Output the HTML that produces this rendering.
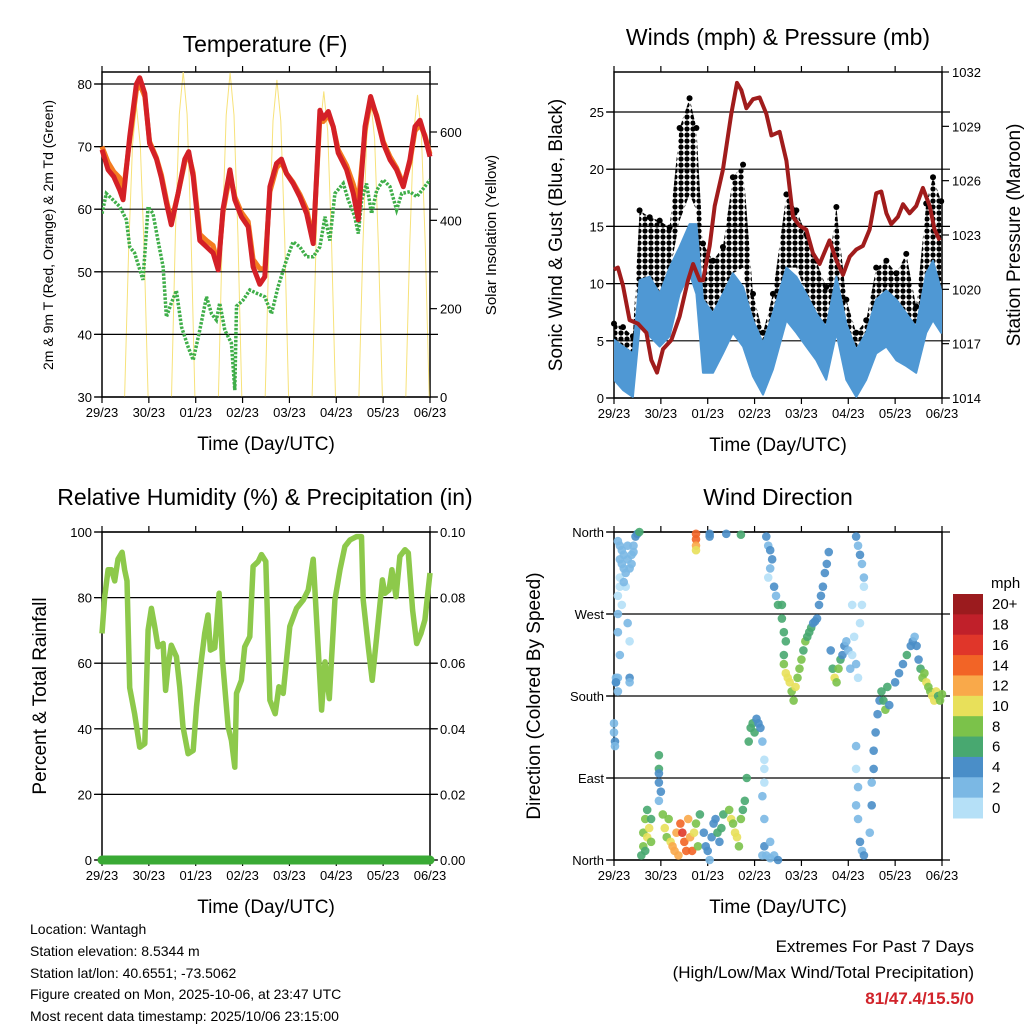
<!DOCTYPE html>
<html><head><meta charset="utf-8"><style>
body{margin:0;background:#fff;}
svg{display:block;font-family:"Liberation Sans",sans-serif;}
</style></head><body>
<svg id="c" width="1024" height="1024" viewBox="0 0 1024 1024" xmlns="http://www.w3.org/2000/svg">
<defs>
<pattern id="dots" width="6" height="6" patternUnits="userSpaceOnUse"><circle cx="3" cy="3" r="2.6" fill="#000"/></pattern>
</defs>
</svg>
<script>
// ---------- DATA ----------
const dayLabels = ["29/23","30/23","01/23","02/23","03/23","04/23","05/23","06/23"];
// Temperature panel
const tempHours = [0,3.1,6,9.1,10.8,14.2,17.6,19.3,21.9,24.4,27.9,30.4,33,35.5,39,42.4,44.4,46.7,50.1,53.5,56.9,59.5,62,65.5,68,71.4,74.9,77.4,80.8,83.4,86,89.4,91.9,94.5,97.9,101.3,104.8,108.2,111.6,113.3,115.9,118.4,121,125.3,128.7,131.3,134.7,137.6,140.7,144.1,147.5,150.9,154.3,157.7,160.3,162.9,165.4,168];
const temp2m = [69.5,66.3,65.2,63,61.5,71.6,80,81,78.5,70.5,68,65,61,57.5,62.5,68,69.2,65.2,55,54,53,50.3,60,66.3,61.5,58.8,57.2,50.8,48,49.2,63.6,67.3,68,65.7,64.1,62,59.3,54.5,75.8,74.5,75.6,73.2,69,66.3,62.5,58.3,73.2,78,74.8,70.5,67.9,66.3,63.6,67.9,73.2,74.2,71.6,68.4];
const temp9m = [70,67.5,66,65,62.5,71,79,80,78,70.8,68.2,65.5,61.5,58,62.5,67.5,68.8,65.8,56,55,54.2,51,59.5,65.5,62,59.5,58,52,50.5,50.5,62.8,66.6,67.5,65.7,64.3,62.4,60,55,74.5,74,75,73.2,69.5,67,64,61,72.5,77.4,75,70.8,68.4,66.6,64,67.5,72.5,73.5,71.8,68.8];
const dewHours = [0,2.2,5.6,9.1,12.5,14.2,16.7,21,23.6,26.1,28.7,31.3,33,35.5,38.1,40.7,44.1,46.7,50.1,53.5,56.1,58.6,60.3,62.9,66.3,68,68.9,72.3,75.7,79.1,83.4,86.8,90.2,94.5,97.9,101.3,104.8,108.2,111.6,114.2,116.7,119.3,123.6,126.1,129.5,131.3,133,135.5,138.1,140.7,144.1,147.5,150.9,153.5,157.7,161.2,164.6,168];
const dewpoint = [59.3,62.5,61.5,60.4,58.3,54,53,48.7,60.4,59.3,55,50.8,42.8,45,47,41.2,38,35.9,40.7,46,43.3,42.3,45,40.7,38.6,31.1,44.5,45.5,47.1,46.6,46,43.3,47.6,51.9,54.8,54,52.4,52.4,54,58.8,55,62.5,64.1,61.5,58.8,56.1,61.5,64.1,59.3,63,64.7,63.6,59.9,62.5,62.8,62,63.3,64.7];
const solarHours = [11.6,13.6,15.6,17.6,19.6,21.6,23.6, 35.6,37.6,39.6,41.6,43.6,45.6,47.6, 59.6,61.6,63.6,65.6,67.6,69.6,71.6, 83.6,85.6,87.6,89.6,91.6,93.6,95.6, 107.6,109.6,111.6,113.6,115.6,117.6,119.6, 131.6,133.6,135.6,137.6,139.6,141.6,143.6, 155.6,157.6,159.6,161.6,163.6,165.6,167.6];
const solar = [0,330,570,660,570,330,0, 0,370,640,737,640,370,0, 0,367,638,734,638,367,0, 0,359,625,718,625,359,0, 0,346,602,692,602,346,0, 0,336,585,673,585,336,0, 0,342,595,684,595,342,0];
// Winds panel
const presHours = [0,2,4.6,8,12.3,16.6,19.1,22,25.1,29.4,33.6,37.9,40.5,43.9,45.6,49,51.6,55.8,60.1,63,65.2,67.8,71.2,74.6,78,80.6,84.8,88.3,91.7,95.1,98.5,101.9,105.3,110.4,113.9,117.3,120.7,124.1,127.5,130.9,134.3,136.9,139.5,142,145.4,148,151.4,154.8,158.2,161.7,164.2,166.8];
const pressure = [1021.1,1021.2,1020.2,1018.3,1018.1,1017.6,1016.1,1015.4,1016.7,1017.2,1018.5,1020.5,1021.4,1020.5,1020.5,1022.4,1024.6,1026.6,1029.7,1031.4,1031,1030,1030.5,1030.6,1029.7,1028.5,1028.7,1027.1,1024,1023.5,1023.3,1022,1021.4,1022.7,1021.6,1020.8,1021.8,1022.2,1022.4,1023.3,1025.3,1025.4,1024.2,1023.6,1024,1024.7,1024.2,1024.6,1025.6,1024.6,1023.3,1022.7];
const windHours = [0,4.6,9.7,13.1,18.3,23.4,28.5,33.6,38.7,42.2,45.6,50.7,55.8,60.9,66.1,71.2,76.3,81.4,88.3,93.4,98.5,103.6,108.7,113.9,119,124.1,129.2,134.3,139.5,144.6,149.7,154.8,159.9,163.4,167.6];
const windHigh = [5.1,4.5,3.9,10.3,10.6,9.1,11.4,13.2,15.2,15.2,8.6,7.4,9.1,10.9,9.7,6.8,4.8,7.4,11.4,10.6,9.1,7.4,6.2,10.6,6.5,4.2,5.7,8.6,9.4,8.6,7.4,6.2,10.9,12,9.4];
const windLow = [1.6,0.7,0.1,6.2,5.4,4.5,5.4,9.1,10.9,9.1,2.2,2.2,3.9,5.7,4.5,1.9,0.3,2.5,6.8,5.7,4.5,3.3,1.6,5.7,1.6,0.1,1.6,3.9,4.5,3.3,2.8,2.2,5.7,6.8,5.7];
const gustHigh = [6.5,6.2,5.4,16.4,15.8,15.5,14.9,23.6,26.2,23.6,13.5,12,13.2,19.3,20.4,9.1,5.7,9.1,17.8,16.4,14.3,12,9.7,16.7,8.6,5.7,6.8,11.4,12,10.9,12.6,8,17,19.3,17.2];
const gustLow = [3.9,3.3,1.6,9.7,9.7,9.1,10.9,15.5,17.8,16.4,5.7,4.5,6.8,10.9,11.4,5.1,1.9,4.5,11.4,11.4,9.1,7.4,5.4,10.3,4.5,1.9,3.3,7.4,8.1,6.2,6.2,4.8,9.1,11.4,9.1];
// RH panel
const rhHours = [0,1.4,3.1,4.8,6.5,8.2,10.3,11.6,12.8,14.2,16.7,19.3,21.9,23.6,25.3,27,28.7,31.3,32.6,33.8,35.5,38.1,39.8,41.5,44.1,46.7,48.4,50.9,52.6,54.3,55.5,57.8,60,61.7,64.6,66.3,68,68.9,71.4,73.1,75.7,77.4,80,81.7,83.9,86,88.7,90.6,92.8,96.2,99.6,103.1,105.6,108.2,109.9,112.5,114.2,116.4,119.3,121.9,124.4,127,130.4,132.9,133.8,136.4,138.4,140.7,143.6,144.9,147,148.5,150.6,152.6,155.2,156.9,159.1,161.2,163.4,165.4,168];
const rh = [69.1,80.3,88.5,88.5,85.1,91.7,93.8,88.5,85.1,52.5,44.6,34.4,35.5,70.1,76.7,71.2,65,66,51.7,58.9,65.5,62,52.8,40.6,32.4,33.4,46.7,61,69.1,74.7,64,64.7,81.3,61,40.6,36.5,28.3,50.8,54.8,65,68.1,89.5,91,93.1,91,48.7,44.6,52.8,50.8,71.2,76.7,79.3,82.3,91.7,73.2,45.7,60.4,49.2,79.3,88.5,95.6,97.6,98.6,98.6,79.3,64.9,54.8,68.1,85.4,81.3,82.3,88.5,80.3,92.6,94.6,93.6,76.2,66,69.1,73.2,87.5];
const precipHours = [0,168];
const precip = [0,0];
// Wind direction panel: [hour, degrees, speed mph]
const dirPts = [[2,350,2],[3,330,2],[3,310,1],[4,340,3],[5,320,2],[6,300,1],[7,330,3],[8,320,2],[9,335,3],[10,345,3],[11,355,4],[12,358,5],[13,360,7],[2,290,1],[4,280,1],[2,250,2],[3,225,2],[2,200,3],[7,260,2],[8,240,1],[2,185,3],[1,195,3],[1,200,3],[1,195,4],[8,200,4],[8,195,2],[0,150,2],[0,140,3],[0.5,130,4],[0.5,125,3],
[3,345,2],[4,325,2],[5,335,3],[6,315,2],[7,345,2],[9,325,3],[10,338,2],[3,300,1],[5,305,2],[2,270,2],
[42,358,14],[42,352,15],[42,345,12],[42,340,10],[49,358,4],[49,355,4],[57.5,358,4],[65,357,6],
[14,5,7],[15,15,8],[15,30,9],[16,45,8],[17,55,6],[17,25,10],[18,35,10],[19,45,7],[19,20,9],[16,10,6],
[23,115,7],[23,100,6],[23,85,4],[24,75,4],[23,95,4],[23,65,3],
[25,50,8],[26,35,10],[27,25,8],[28,45,9],[29,20,11],[30,15,12],[31,10,13],[32,30,13],[33,5,12],
[34,40,15],[35,30,16],[36,20,15],[37,10,14],[38,45,13],[39,25,12],[40,10,15],[41,30,10],[42,40,9],[43,15,8],[44,50,7],
[46,30,4],[47,15,5],[48,10,4],[49,0,3],[50,25,4],[51,40,5],[52,45,4],[53,30,6],[54,20,5],[55,35,6],[56,50,7],
[59,55,8],[60,45,10],[61,40,9],[62,30,10],[63,25,11],[64,15,9],[65,45,8],[66,55,7],[67,65,6],[68,90,6],
[69,130,6],[70,145,7],[71,150,6],[72,140,7],[73,155,5],[74,150,5],[75,145,4],[76,130,3],
[76,5,3],[77,15,4],[78,5,3],[80,2,3],[82,5,3],[84,0,4],[80,20,2],
[77,110,1],[77,85,1],[76,70,2],[77,45,2],[77,100,1],
[78,355,4],[79,345,3],[80,340,4],[81,330,4],[80,320,3],[79,310,1],[82,300,4],[83,290,2],[84,280,6],
[86,280,6],[86,265,7],[87,250,6],[88,240,6],[87,225,6],
[87,215,9],[88,205,10],[89,200,10],[90,195,11],[91,185,8],[92,175,8],[93,190,10],[94,200,9],[95,210,8],[96,220,8],[97,230,7],[98,240,8],[99,245,7],[100,250,6],[101,255,6],[102,260,5],[103,262,4],
[104,265,4],[105,280,4],[106,290,4],[107,300,4],[108,315,4],[109,325,4],[110,338,4],
[111,230,4],[112,210,7],[113,200,10],[114,195,9],[115,210,8],[116,220,6],[117,225,4],[118,235,4],
[119,240,2],[120,230,2],[121,210,2],[122,225,1],[123,245,1],[124,215,2],[125,200,1],
[124,355,4],[125,345,3],[126,335,4],[127,325,3],[128,300,1],[128,310,2],[127,280,1],[126,260,1],[122,280,1],
[124,125,2],[124,100,1],[125,80,2],[124,60,3],[125,45,2],[126,20,4],[127,10,3],[128,5,4],
[131,30,3],[132,60,4],[132,85,3],[133,100,4],[133,120,4],[134,140,4],[135,160,4],[136,175,5],
[137,185,6],[138,175,7],[139,165,8],[140,190,6],[141,170,5],
[144,195,4],[146,205,4],[148,215,5],[150,225,6],[152,235,4],[153,240,4],[154,245,3],[155,235,4],[156,220,5],
[157,210,7],[158,200,8],[159,205,9],[160,195,10],[161,190,8],[162,185,9],[163,180,10],[164,175,11],[165,185,10],[166,180,7],[167,175,8],[168,182,9]];
const speedLabels = ["20+","18","16","14","12","10","8","6","4","2","0"];
const speedColors = ["#9b1b1e","#c0202a","#e0362a","#f26426","#f9a94a","#e8e05a","#7bc24a","#48a870","#4a8ec8","#7bb8e4","#b5e0f7"];

// ---------- HELPERS ----------
const NS="http://www.w3.org/2000/svg";
const svg=document.getElementById('c');
function mk(tag,attrs,parent,txt){const e=document.createElementNS(NS,tag);for(const k in attrs)e.setAttribute(k,attrs[k]);if(txt!==undefined)e.textContent=txt;(parent||svg).appendChild(e);return e;}
function scale(d0,d1,r0,r1){return v=>r0+(v-d0)/(d1-d0)*(r1-r0);}
function pathOf(xs,ys,fx,fy){return xs.map((v,i)=>(i?'L':'M')+fx(v).toFixed(1)+','+fy(ys[i]).toFixed(1)).join('');}
function text(x,y,s,size,anchor,parent,rot,extra){const t=mk('text',Object.assign({x:x,y:y,'font-size':size,'text-anchor':anchor||'middle',fill:'#000'},extra||{}),parent,s);if(rot)t.setAttribute('transform','rotate('+rot+' '+x+' '+y+')');return t;}

function panel(name,x0,x1,y0,y1){
  const g=mk('g',{},svg);
  
  
  mk('rect',{x:x0,y:y0,width:x1-x0,height:y1-y0,fill:'none',stroke:'#000','stroke-width':1.5},g);
  const fx=scale(0,168,x0,x1);
  dayLabels.forEach((d,i)=>{
    const x=fx(i*24);
    mk('line',{x1:x,x2:x,y1:y1,y2:y1+6,stroke:'#000','stroke-width':1.2},g);
    mk('line',{x1:x,x2:x,y1:y0,y2:y0-6,stroke:'#000','stroke-width':1.2},g);
    const t=text(x,y1+20,d,13,'middle',g);
    
    
  });
  const xt=text((x0+x1)/2,y1+53,'Time (Day/UTC)',19,'middle',g);
  
  
  return {g,fx};
}
function yAxis(g,vals,labels,fy,x0,x1,side,grid){
  vals.forEach((v,i)=>{
    const y=fy(v);
    if(grid) mk('line',{x1:x0-8,x2:x1+8,y1:y,y2:y,stroke:'#000','stroke-width':1.2},g);
    const lx= side==='left'? x0-10 : x1+10;
    mk('line',{x1:side==='left'?x0-7:x1,x2:side==='left'?x0:x1+7,y1:y,y2:y,stroke:'#000','stroke-width':1.2},g);
    const t=text(lx,y+5,labels[i],13,side==='left'?'end':'start',g);
    
    
  });
}

// ---------- PANEL 1: TEMPERATURE ----------
(function(){
  const X0=102,X1=430,Y0=72,Y1=397;
  const p=panel('temperature-panel',X0,X1,Y0,Y1);const g=p.g,fx=p.fx;
  const fy=scale(30,80,397,84), fs=scale(0,600,397,132);
  const tt=text(265,52,'Temperature (F)',23,'middle',g);
  
  const cp=mk('clipPath',{id:'cp1'},g);mk('rect',{x:X0,y:Y0,width:X1-X0,height:Y1-Y0},cp);
  const sol=mk('path',{d:pathOf(solarHours,solar,fx,fs),fill:'none',stroke:'#f7e27a','stroke-width':1,'clip-path':'url(#cp1)'},g);
  
  yAxis(g,[30,40,50,60,70,80],["30","40","50","60","70","80"],fy,X0,X1,'left',true);
  yAxis(g,[0,200,400,600],["0","200","400","600"],fs,X0,X1,'right',false);
  const dp=mk('path',{d:pathOf(dewHours,dewpoint,fx,fy),fill:'none',stroke:'#3fae49','stroke-width':3.5,'stroke-dasharray':'2.5 1.5','clip-path':'url(#cp1)'},g);
  
  const o=mk('path',{d:pathOf(tempHours,temp9m,fx,fy),fill:'none',stroke:'#f47b20','stroke-width':5,'stroke-linejoin':'round'},g);
  
  const r=mk('path',{d:pathOf(tempHours,temp2m,fx,fy),fill:'none',stroke:'#d42027','stroke-width':5,'stroke-linejoin':'round'},g);
  
  const yl=text(53,235,'2m & 9m T (Red, Orange) & 2m Td (Green)',14,'middle',g,-90);
  
  const yr=text(496,235,'Solar Insolation (Yellow)',15,'middle',g,-90);
  
})();

// ---------- PANEL 2: WINDS ----------
(function(){
  const X0=614,X1=942,Y0=72,Y1=398;
  const p=panel('winds-panel',X0,X1,Y0,Y1);const g=p.g,fx=p.fx;
  const fy=scale(0,25,398,112), fp=scale(1014,1032,398,72);
  const tt=text(778,45,'Winds (mph) & Pressure (mb)',23,'middle',g);
  
  yAxis(g,[0,5,10,15,20,25],["0","5","10","15","20","25"],fy,X0,X1,'left',true);
  yAxis(g,[1014,1017,1020,1023,1026,1029,1032],["1014","1017","1020","1023","1026","1029","1032"],fp,X0,X1,'right',false);
  const cp=mk('clipPath',{id:'cp2'},g);mk('rect',{x:X0,y:Y0,width:X1-X0,height:Y1-Y0},cp);
  const gb=mk('path',{d:pathOf(windHours,gustHigh,fx,fy)+pathOf(windHours.slice().reverse(),gustLow.slice().reverse(),fx,fy).replace('M','L')+'Z',fill:'url(#dots)',stroke:'none','clip-path':'url(#cp2)'},g);
  
  windHours.forEach((h,i)=>{
    const c=mk('circle',{cx:fx(h),cy:fy(gustHigh[i]),r:3,fill:'#000'},g);
    
    
  });
  const wb=mk('path',{d:pathOf(windHours,windHigh,fx,fy)+pathOf(windHours.slice().reverse(),windLow.slice().reverse(),fx,fy).replace('M','L')+'Z',fill:'#4f98d4',stroke:'#4f98d4','stroke-width':2,'stroke-linejoin':'round','clip-path':'url(#cp2)'},g);
  
  const pr=mk('path',{d:pathOf(presHours,pressure,fx,fp),fill:'none',stroke:'#a01c1c','stroke-width':4,'stroke-linejoin':'round'},g);
  
  const yl=text(562,235,'Sonic Wind & Gust (Blue, Black)',19,'middle',g,-90);
  
  const yr=text(1020,235,'Station Pressure (Maroon)',19,'middle',g,-90);
  
})();

// ---------- PANEL 3: RH ----------
(function(){
  const X0=102,X1=430,Y0=532,Y1=860;
  const p=panel('humidity-panel',X0,X1,Y0,Y1);const g=p.g,fx=p.fx;
  const fy=scale(0,100,860,532), fr=scale(0,0.1,860,532);
  const tt=text(265,505,'Relative Humidity (%) & Precipitation (in)',23,'middle',g);
  
  yAxis(g,[0,20,40,60,80,100],["0","20","40","60","80","100"],fy,X0,X1,'left',true);
  yAxis(g,[0,0.02,0.04,0.06,0.08,0.1],["0.00","0.02","0.04","0.06","0.08","0.10"],fr,X0,X1,'right',false);
  const l=mk('path',{d:pathOf(rhHours,rh,fx,fy),fill:'none',stroke:'#8dc94b','stroke-width':5.5,'stroke-linejoin':'round'},g);
  
  const pl=mk('path',{d:pathOf(precipHours,precip,fx,fr),fill:'none',stroke:'#3aaa35','stroke-width':9,'stroke-linecap':'round'},g);
  
  const yl=text(46,696,'Percent & Total Rainfall',19,'middle',g,-90);
  
})();

// ---------- PANEL 4: WIND DIRECTION ----------
(function(){
  const X0=614,X1=942,Y0=532,Y1=860;
  const p=panel('wind-direction-panel',X0,X1,Y0,Y1);const g=p.g,fx=p.fx;
  const fy=scale(0,360,860,532);
  const tt=text(778,505,'Wind Direction',23,'middle',g);
  
  yAxis(g,[0,90,180,270,360],["North","East","South","West","North"],fy,X0,X1,'left',true);
  dirPts.forEach(pt=>{
    const idx=Math.max(0,Math.min(10,10-Math.floor(pt[2]/2)));
    const c=mk('circle',{cx:fx(pt[0]),cy:fy(pt[1]),r:4.3,fill:speedColors[idx],'fill-opacity':0.9},g);
    
    
  });
  const yl=text(540,696,'Direction (Colored By Speed)',19,'middle',g,-90);
  
  const cb=mk('g',{},svg);
  
  
  const h=(818-594)/speedColors.length;
  speedColors.forEach((col,i)=>{
    const r=mk('rect',{x:953,y:594+i*h,width:30,height:h+0.5,fill:col},cb);
    
    
    const t=text(992,594+i*h+h/2+5,speedLabels[i],15,'start',cb);
    
    
  });
  const u=text(991,588,'mph',15,'start',cb);
  
})();
</script>
<div style="position:absolute;left:0;top:0;width:1024px;height:1024px;pointer-events:none;font-family:'Liberation Sans',sans-serif;">
  <div style="position:absolute;left:30px;top:919px;font-size:14px;line-height:21.8px;color:#000;">
    <div>Location: Wantagh</div>
    <div>Station elevation: 8.5344 m</div>
    <div>Station lat/lon: 40.6551; -73.5062</div>
    <div>Figure created on Mon, 2025-10-06, at 23:47 UTC</div>
    <div>Most recent data timestamp: 2025/10/06 23:15:00</div>
  </div>
  <div style="position:absolute;right:50px;top:934px;font-size:17px;line-height:26px;text-align:right;color:#000;">
    <div>Extremes For Past 7 Days</div>
    <div>(High/Low/Max Wind/Total Precipitation)</div>
    <div style="color:#d1232a;font-weight:bold;">81/47.4/15.5/0</div>
  </div>
</div>
</body></html>
